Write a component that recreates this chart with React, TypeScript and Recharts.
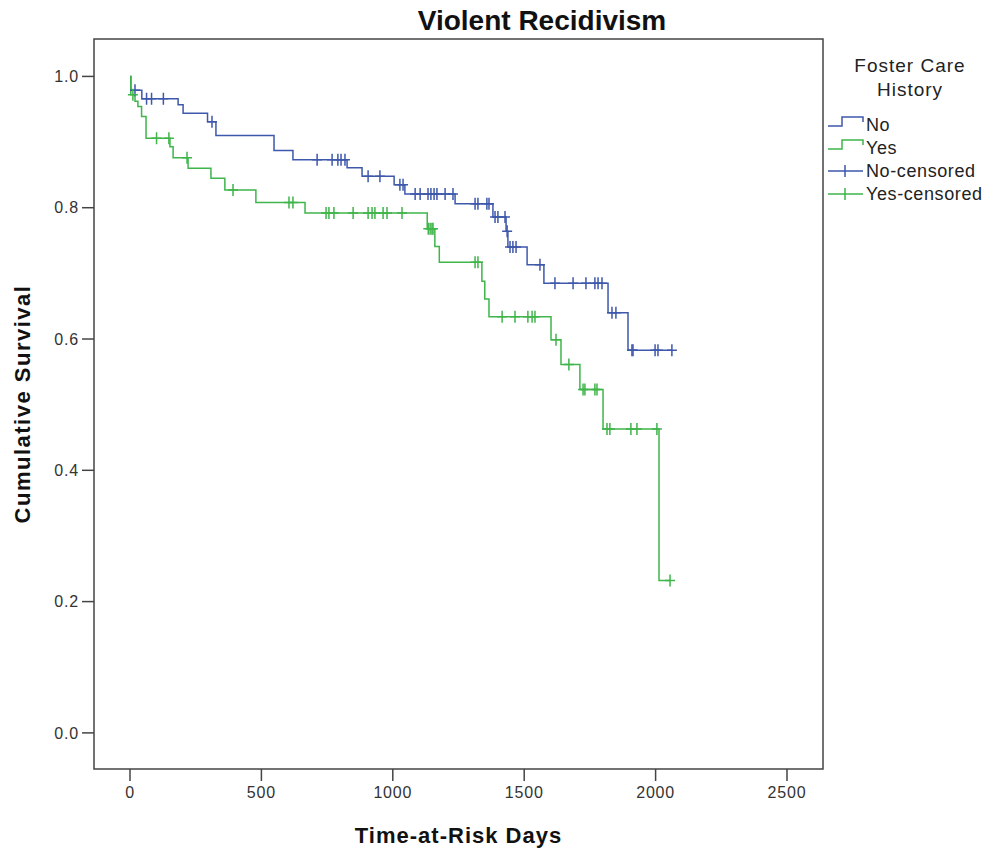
import { ComposedChart, Line, Scatter, XAxis, YAxis, ReferenceArea, Label } from 'recharts'

// Kaplan-Meier steps: event time (days) and survival after it
const noStepT = [0, 3, 45, 183, 202, 295, 327, 548, 620, 826, 883, 1005, 1046, 1237, 1381, 1431, 1438, 1511, 1575, 1819, 1895, 2062]
const noStepS = [1.0, 0.979, 0.966, 0.957, 0.944, 0.931, 0.91, 0.887, 0.873, 0.861, 0.848, 0.835, 0.821, 0.806, 0.786, 0.764, 0.74, 0.713, 0.685, 0.64, 0.583, 0.583]
const noCensored = [19, 63, 82, 127, 312, 712, 769, 791, 803, 818, 906, 951, 1027, 1039, 1085, 1104, 1134, 1145, 1157, 1168, 1199, 1229,
  1313, 1324, 1358, 1366, 1389, 1400, 1427, 1435, 1446, 1457, 1469, 1560, 1617, 1686, 1735, 1769, 1781, 1796, 1834, 1849, 1910, 1914, 1998, 2009, 2062]

const yesStepT = [0, 3, 19, 30, 44, 61, 152, 164, 221, 308, 361, 479, 666, 1131, 1160, 1177, 1339, 1350, 1366, 1602, 1640, 1712, 1800, 2013, 2055]
const yesStepS = [1.0, 0.972, 0.962, 0.954, 0.939, 0.906, 0.893, 0.876, 0.86, 0.845, 0.827, 0.808, 0.792, 0.768, 0.741, 0.717, 0.688, 0.661, 0.634, 0.599, 0.561, 0.523, 0.463, 0.232, 0.232]
const yesCensored = [11, 101, 148, 217, 392, 605, 620, 746, 757, 776, 849, 906, 921, 932, 963, 978, 1035, 1135, 1142, 1149, 1153,
  1313, 1324, 1416, 1465, 1514, 1530, 1541, 1621, 1670, 1724, 1731, 1769, 1777, 1815, 1826, 1906, 1929, 2005, 2055]

const xTicks = [0, 500, 1000, 1500, 2000, 2500]
const yTicks = [0, 0.2, 0.4, 0.6, 0.8, 1.0]

const BLUE = '#3e58ac'
const GREEN = '#3fb54a'
const FONT = '"Liberation Sans", Arial, sans-serif'

const X_DOMAIN: [number, number] = [-137, 2637]
const Y_DOMAIN: [number, number] = [-0.055, 1.057]

function steps(ts: number[], ss: number[]) {
  return ts.map((t, i) => ({ t, s: ss[i] }))
}

// censored marks sit on the curve at the survival level in force at that time
function marks(times: number[], ts: number[], ss: number[]) {
  return times.map((t) => {
    let s = ss[0]
    ts.forEach((st, i) => { if (st <= t) s = ss[i] })
    return { t, s }
  })
}

const noData = steps(noStepT, noStepS)
const yesData = steps(yesStepT, yesStepS)
const noMarks = marks(noCensored, noStepT, noStepS)
const yesMarks = marks(yesCensored, yesStepT, yesStepS)

function Cross(props: any) {
  const { cx, cy, fill } = props
  if (cx == null || cy == null) return null
  return <path d={`M${cx - 5},${cy}H${cx + 5}M${cx},${cy - 6}V${cy + 6}`} stroke={fill} strokeWidth={1.5} fill="none" />
}

function Legend() {
  return (
    <svg width={175} height={180} style={{ position: 'absolute', left: 820, top: 40, fontFamily: FONT }}>
      <text x={90} y={32} textAnchor="middle" fontSize={19} letterSpacing={1} fill="#222">Foster Care</text>
      <text x={90} y={56} textAnchor="middle" fontSize={19} letterSpacing={1} fill="#222">History</text>
      <path d="M8,86H22V77H43V82" stroke={BLUE} strokeWidth={1.5} fill="none" />
      <path d="M8,109H22V100H43V105" stroke={GREEN} strokeWidth={1.5} fill="none" />
      <path d="M8,131H43M25,125V137" stroke={BLUE} strokeWidth={1.5} fill="none" />
      <path d="M8,154H43M25,148V160" stroke={GREEN} strokeWidth={1.5} fill="none" />
      <text x={46} y={91} fontSize={18} letterSpacing={0.6} fill="#222">No</text>
      <text x={46} y={114} fontSize={18} letterSpacing={0.6} fill="#222">Yes</text>
      <text x={46} y={137} fontSize={18} letterSpacing={0.6} fill="#222">No-censored</text>
      <text x={46} y={160} fontSize={18} letterSpacing={0.6} fill="#222">Yes-censored</text>
    </svg>
  )
}

export default function App() {
  const tickStyle = { fill: '#333', fontSize: 16, fontFamily: FONT, letterSpacing: 0.8 }
  return (
    <div style={{ position: 'absolute', left: 0, top: 0, width: 995, height: 852, background: '#fff', fontFamily: FONT }}>
      <svg width={995} height={40} style={{ position: 'absolute', left: 0, top: 0 }}>
        <text x={542} y={30} textAnchor="middle" fontSize={28} fontWeight="bold" fill="#111" fontFamily={FONT}>Violent Recidivism</text>
      </svg>
      <ComposedChart width={995} height={852} margin={{ top: 39, right: 172, bottom: 0, left: 0 }}>
        <XAxis
          dataKey="t"
          type="number"
          domain={X_DOMAIN}
          allowDataOverflow
          ticks={xTicks}
          height={83}
          tickSize={12}
          tickMargin={6}
          axisLine={false}
          tickLine={{ stroke: '#444', strokeWidth: 1.5 }}
          tick={tickStyle}
        >
          <Label value="Time-at-Risk Days" position="insideBottom" offset={9}
            style={{ fontSize: 22, fontWeight: 'bold', fill: '#111', fontFamily: FONT, letterSpacing: 1 }} />
        </XAxis>
        <YAxis
          type="number"
          domain={Y_DOMAIN}
          allowDataOverflow
          ticks={yTicks}
          width={94}
          tickSize={12}
          tickMargin={3}
          axisLine={false}
          tickLine={{ stroke: '#444', strokeWidth: 1.5 }}
          tick={tickStyle}
          tickFormatter={(v: number) => v.toFixed(1)}
        >
          <Label value="Cumulative Survival" angle={-90} position="insideLeft" offset={22}
            style={{ fontSize: 22, fontWeight: 'bold', fill: '#111', fontFamily: FONT, letterSpacing: 1.5, textAnchor: 'middle' }} />
        </YAxis>
        <ReferenceArea x1={X_DOMAIN[0]} x2={X_DOMAIN[1]} y1={Y_DOMAIN[0]} y2={Y_DOMAIN[1]}
          ifOverflow="visible" fill="none" stroke="#444" strokeWidth={1.5} fillOpacity={0} />
        <Line data={noData} dataKey="s" type="stepAfter" stroke={BLUE} strokeWidth={1.5} dot={false} isAnimationActive={false} />
        <Line data={yesData} dataKey="s" type="stepAfter" stroke={GREEN} strokeWidth={1.5} dot={false} isAnimationActive={false} />
        <Scatter data={noMarks} dataKey="s" fill={BLUE} shape={<Cross />} isAnimationActive={false} />
        <Scatter data={yesMarks} dataKey="s" fill={GREEN} shape={<Cross />} isAnimationActive={false} />
      </ComposedChart>
      <Legend />
    </div>
  )
}
